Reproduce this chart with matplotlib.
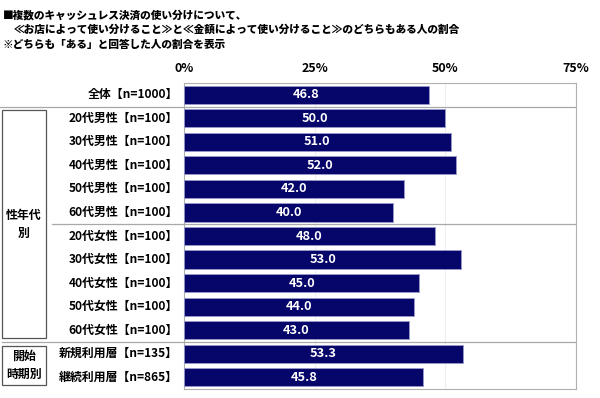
import numpy as np
import matplotlib
matplotlib.use('Agg')
import matplotlib.pyplot as plt
from matplotlib.patches import Rectangle
from matplotlib.lines import Line2D
import matplotlib.transforms as mtransforms

plt.rcParams['font.family'] = ['Noto Sans CJK JP', 'DejaVu Sans']

# データ
labels = ['全体【n=1000】',
          '20代男性【n=100】', '30代男性【n=100】', '40代男性【n=100】',
          '50代男性【n=100】', '60代男性【n=100】',
          '20代女性【n=100】', '30代女性【n=100】', '40代女性【n=100】',
          '50代女性【n=100】', '60代女性【n=100】',
          '新規利用層【n=135】', '継続利用層【n=865】']
values = [46.8, 50.0, 51.0, 52.0, 42.0, 40.0, 48.0, 53.0, 45.0, 44.0, 43.0, 53.3, 45.8]
xticks = [0, 25, 50, 75]
xticklabels = ['0%', '25%', '50%', '75%']

W, H = 600, 398
fig = plt.figure(figsize=(W / 100, H / 100), dpi=100)
ax = fig.add_axes([184 / W, 1 - 389 / H, (576 - 184) / W, (389 - 83) / H])

y = np.arange(len(values))
ax.barh(y, values, height=0.77, color='#06066a', edgecolor='#9999cc', linewidth=0.6, zorder=3)
for yi, v in zip(y, values):
    ax.text(v / 2, yi, f'{v:.1f}', ha='center', va='center', color='white',
            fontsize=9.2, fontweight='bold', zorder=4)

ax.set_xlim(0, 75)
ax.set_ylim(len(values) - 0.5, -0.5)
ax.set_yticks([])
ax.xaxis.tick_top()
ax.set_xticks(xticks)
ax.set_xticklabels(xticklabels, fontsize=9, fontweight='bold')
ax.tick_params(axis='x', length=0, pad=6)
ax.grid(axis='x', color='#eeeeee', linewidth=0.8, zorder=0)
for s in ax.spines.values():
    s.set_color('#b0b0b0')
    s.set_linewidth(0.8)

# 区切り線
seps = [0.5, 5.5, 10.5]
for s in seps:
    ax.axhline(s, color='#a8a8a8', linewidth=0.9, zorder=2)

# 行ラベル
for yi, lab in zip(y, labels):
    ax.text(-0.015, yi, lab, transform=ax.get_yaxis_transform(), ha='right', va='center',
            fontsize=8.6, fontweight='bold')

blend = mtransforms.blended_transform_factory(fig.transFigure, ax.transData)
sep_x0 = [0 / W, 52 / W, 2 / W]
for s, x0 in zip(seps, sep_x0):
    fig.add_artist(Line2D([x0, 184 / W], [s, s], transform=blend, color='#a8a8a8', linewidth=0.9))

# グループ枠
groups = [('性年代\n別', 0.5, 10.5), ('開始\n時期別', 10.5, 12.5)]
for name, y0, y1 in groups:
    g = 0.16
    fig.add_artist(Rectangle((2 / W, y0 + g), 44 / W, (y1 - y0) - 2 * g, transform=blend,
                             fill=False, edgecolor='#555555', linewidth=0.9))
    fig.text(24 / W, (y0 + y1) / 2, name, transform=blend,
             ha='center', va='center', fontsize=8.6, fontweight='bold', linespacing=1.5)

# タイトル
fig.text(3 / W, 1 - 15 / H, '■複数のキャッシュレス決済の使い分けについて、', ha='left', va='center',
         fontsize=7.7, fontweight='heavy')
fig.text(14 / W, 1 - 30 / H, '≪お店によって使い分けること≫と≪金額によって使い分けること≫のどちらもある人の割合',
         ha='left', va='center', fontsize=7.7, fontweight='heavy')
fig.text(3 / W, 1 - 45 / H, '※どちらも「ある」と回答した人の割合を表示', ha='left', va='center',
         fontsize=7.7, fontweight='heavy')

fig.savefig('out.png', dpi=100)
